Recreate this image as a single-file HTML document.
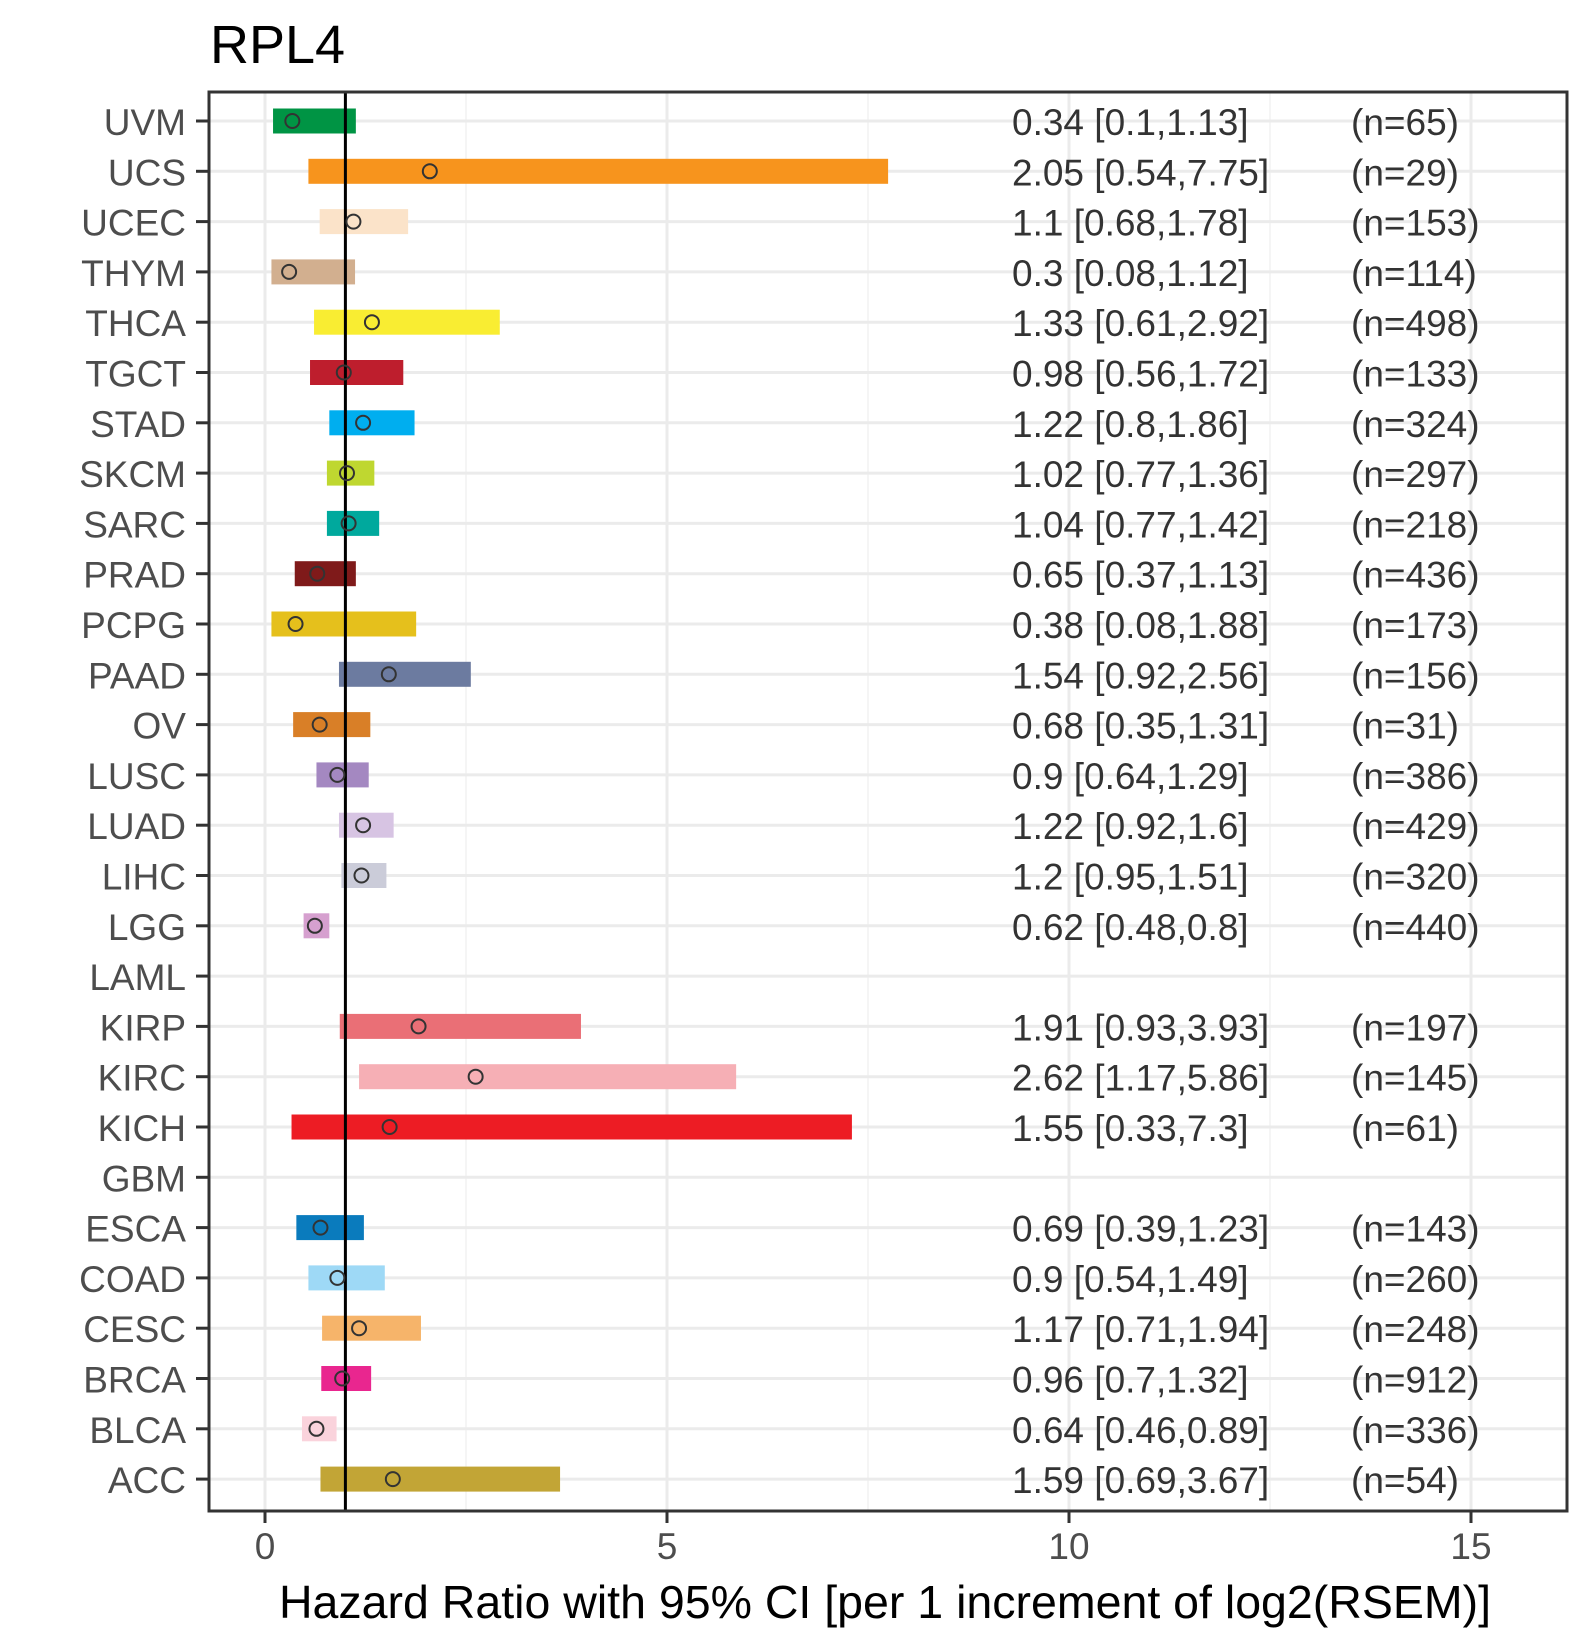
<!DOCTYPE html>
<html><head><meta charset="utf-8"><style>
html,body{margin:0;padding:0;background:#fff}
svg{display:block;font-family:"Liberation Sans",Arial,sans-serif}
</style></head><body>
<svg id="chart" width="1590" height="1650" viewBox="0 0 1590 1650">
<text x="210" y="63" font-size="54" fill="#000">RPL4</text>
<g id="grid"></g><g id="bars"></g><g id="ref"></g><g id="pts"></g><g id="ann"></g><g id="axes"></g>
<text x="885" y="1618" font-size="46.5" fill="#000" text-anchor="middle">Hazard Ratio with 95% CI [per 1 increment of log2(RSEM)]</text>
</svg>
<script>
const cancers=["UVM","UCS","UCEC","THYM","THCA","TGCT","STAD","SKCM","SARC","PRAD","PCPG","PAAD","OV","LUSC","LUAD","LIHC","LGG","LAML","KIRP","KIRC","KICH","GBM","ESCA","COAD","CESC","BRCA","BLCA","ACC"];
const hr=[0.34,2.05,1.1,0.3,1.33,0.98,1.22,1.02,1.04,0.65,0.38,1.54,0.68,0.9,1.22,1.2,0.62,null,1.91,2.62,1.55,null,0.69,0.9,1.17,0.96,0.64,1.59];
const lo=[0.1,0.54,0.68,0.08,0.61,0.56,0.8,0.77,0.77,0.37,0.08,0.92,0.35,0.64,0.92,0.95,0.48,null,0.93,1.17,0.33,null,0.39,0.54,0.71,0.7,0.46,0.69];
const hi=[1.13,7.75,1.78,1.12,2.92,1.72,1.86,1.36,1.42,1.13,1.88,2.56,1.31,1.29,1.6,1.51,0.8,null,3.93,5.86,7.3,null,1.23,1.49,1.94,1.32,0.89,3.67];
const nums=[65,29,153,114,498,133,324,297,218,436,173,156,31,386,429,320,440,null,197,145,61,null,143,260,248,912,336,54];
const colors=["#009444","#F7941D","#FBE3C9","#D2AF8F","#F9ED32","#BE1E2D","#00AEEF","#BFD730","#00A99D","#7F1A1A","#E5C01C","#6C7BA0","#D97F27","#A488C1","#D7C4E3","#CBCCD9","#D6A0CF","#ccc","#EA6F76","#F6AFB5","#ED1C24","#ccc","#0A7BBD","#9ED9F6","#F6B46A","#E9268F","#FAD3DC","#C2A536"];
const xticks=[0,5,10,15];
const NS="http://www.w3.org/2000/svg";
const L=209,R=1567,T=92,B=1511;
const x=v=>265+v*80.4;
const y=i=>121+i*50.3;
function mk(tag,attrs,parent,text){const e=document.createElementNS(NS,tag);for(const k in attrs)e.setAttribute(k,attrs[k]);if(text!=null)e.textContent=text;document.getElementById(parent).appendChild(e);return e;}
[2.5,7.5,12.5].forEach(v=>{const e=mk('line',{x1:x(v),x2:x(v),y1:T,y2:B,stroke:'#f2f2f2','stroke-width':1.5},'grid');

});
xticks.forEach(v=>{const e=mk('line',{x1:x(v),x2:x(v),y1:T,y2:B,stroke:'#ebebeb','stroke-width':3},'grid');

});
cancers.forEach((c,i)=>{const e=mk('line',{x1:L,x2:R,y1:y(i),y2:y(i),stroke:'#ebebeb','stroke-width':3},'grid');

});
cancers.forEach((c,i)=>{
 const lab=mk('text',{x:186,y:y(i)+14,'font-size':37,fill:'#4d4d4d','text-anchor':'end'},'axes',c);
 
 
 const tk=mk('line',{x1:196,x2:209,y1:y(i),y2:y(i),stroke:'#333','stroke-width':3},'axes');
 
 
 if(hr[i]==null)return;
 const b=mk('rect',{x:x(lo[i]),y:y(i)-12.5,width:x(hi[i])-x(lo[i]),height:25,fill:colors[i]},'bars');
 
 
 const p=mk('circle',{cx:x(hr[i]),cy:y(i),r:7,fill:'none',stroke:'#333','stroke-width':2},'pts');
 
 
 const t=mk('text',{x:1012,y:y(i)+14,'font-size':37,fill:'#333'},'ann',hr[i]+' ['+lo[i]+','+hi[i]+']');
 
 
 const n=mk('text',{x:1351,y:y(i)+14,'font-size':37,fill:'#333'},'ann','(n='+nums[i]+')');
 
 
});
const rl=mk('line',{x1:x(1),x2:x(1),y1:T,y2:B,stroke:'#000','stroke-width':3},'ref');


xticks.forEach(v=>{
 const tk=mk('line',{x1:x(v),x2:x(v),y1:B,y2:B+12,stroke:'#333','stroke-width':3},'axes');
 
 
 const t=mk('text',{x:x(v),y:1559,'font-size':37,fill:'#4d4d4d','text-anchor':'middle'},'axes',String(v));
 
 
});
const fr=mk('rect',{x:L,y:T,width:R-L,height:B-T,fill:'none',stroke:'#333','stroke-width':3},'axes');


</script>
</body></html>
